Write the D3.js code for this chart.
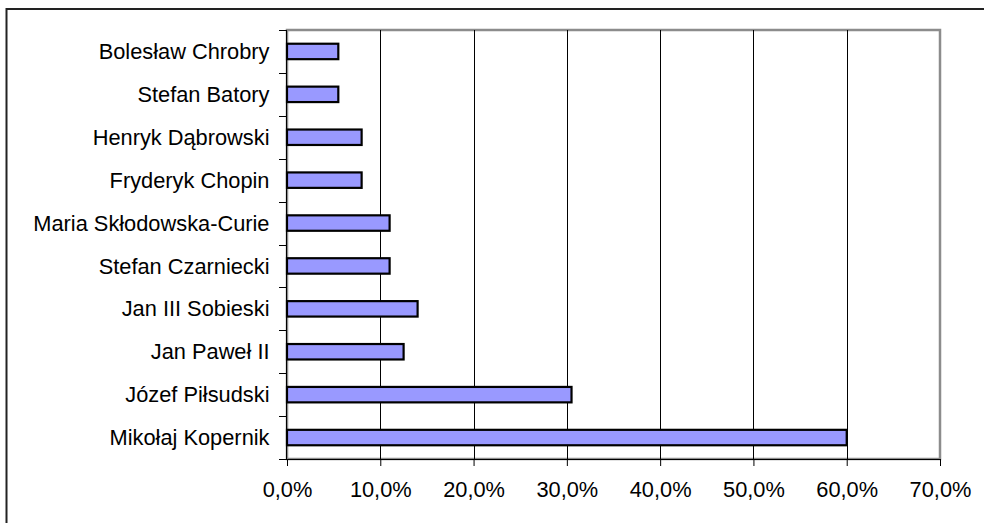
<!DOCTYPE html>
<html>
<head>
<meta charset="utf-8">
<script src="https://cdn.jsdelivr.net/npm/d3@7"></script>
<style>
  body { margin: 0; background: #fff; }
  text { font-family: "Liberation Sans", Arial, sans-serif; fill: #000; }
</style>
</head>
<body>
<svg id="chart" width="984" height="523"></svg>
<script>
// categories from top to bottom
const names = ["Bolesław Chrobry", "Stefan Batory", "Henryk Dąbrowski", "Fryderyk Chopin",
  "Maria Skłodowska-Curie", "Stefan Czarniecki", "Jan III Sobieski", "Jan Paweł II",
  "Józef Piłsudski", "Mikołaj Kopernik"]
const shares = [0.055, 0.055, 0.08, 0.08, 0.11, 0.11, 0.14, 0.125, 0.305, 0.60]
const xTicks = [0, 0.1, 0.2, 0.3, 0.4, 0.5, 0.6, 0.7]

const data = names.map((n, i) => ({ name: n, value: shares[i] }))

const svg = d3.select("#chart")
const pLeft = 287, pRight = 940, pTop = 30, pBottom = 459

const x = d3.scaleLinear().domain([0, 0.7]).range([pLeft, pRight])
const y = d3.scaleBand().domain(names).range([pTop, pBottom])
  .paddingInner(0.64).paddingOuter(0.32)

const fmt = d => d3.format(".1f")(d * 100).replace(".", ",") + "%"

// outer frame
svg.append("rect")
  .attr("x", 6.5).attr("y", 9).attr("width", 990).attr("height", 530)
  .attr("fill", "none").attr("stroke", "#222").attr("stroke-width", 2)

// plot area border
svg.append("rect")
  .attr("x", pLeft).attr("y", pTop).attr("width", pRight - pLeft).attr("height", pBottom - pTop)
  .attr("fill", "none").attr("stroke", "#8c8c8c").attr("stroke-width", 2.5)

// gridlines
svg.append("g")
  .selectAll("line")
  .data(xTicks.slice(1, -1))
  .join("line")
  .attr("x1", d => Math.round(x(d)) + 0.5)
  .attr("x2", d => Math.round(x(d)) + 0.5)
  .attr("y1", pTop).attr("y2", pBottom)
  .attr("stroke", "#000").attr("stroke-width", 1)

// bars
svg.append("g")
  .selectAll("rect")
  .data(data)
  .join("rect")
  .attr("x", x(0))
  .attr("y", d => y(d.name))
  .attr("width", d => x(d.value) - x(0))
  .attr("height", y.bandwidth())
  .attr("fill", "#9999ff")
  .attr("stroke", "#000")
  .attr("stroke-width", 2.2)

// y axis
const yAxis = d3.axisLeft(y).tickSize(0).tickPadding(17)
const gy = svg.append("g").attr("transform", `translate(${pLeft - 0.5},0)`).call(yAxis)
gy.select(".domain").remove()
gy.selectAll("text").attr("font-size", "21.8px").attr("dy", "0.35em")
  .style("font-family", '"Liberation Sans", Arial, sans-serif')

// y tick marks between categories
const step = y.step()
svg.append("g")
  .selectAll("line")
  .data(d3.range(names.length + 1))
  .join("line")
  .attr("x1", pLeft - 8).attr("x2", pLeft)
  .attr("y1", i => Math.round(pTop + i * step) + 0.5)
  .attr("y2", i => Math.round(pTop + i * step) + 0.5)
  .attr("stroke", "#000")

svg.append("line")
  .attr("x1", pLeft - 0.5).attr("x2", pLeft - 0.5).attr("y1", pTop).attr("y2", pBottom + 1)
  .attr("stroke", "#000")

// x axis
const xAxis = d3.axisBottom(x).tickValues(xTicks).tickFormat(fmt).tickSize(7).tickPadding(16)
const gx = svg.append("g").attr("transform", `translate(0,${pBottom})`).call(xAxis)
gx.select(".domain").attr("stroke", "#000").attr("d", `M${pLeft - 8},0.5H${pRight}`)
gx.selectAll(".tick line").attr("stroke", "#000")
gx.selectAll("text").attr("font-size", "21.8px")
  .style("font-family", '"Liberation Sans", Arial, sans-serif')
</script>
</body>
</html>
